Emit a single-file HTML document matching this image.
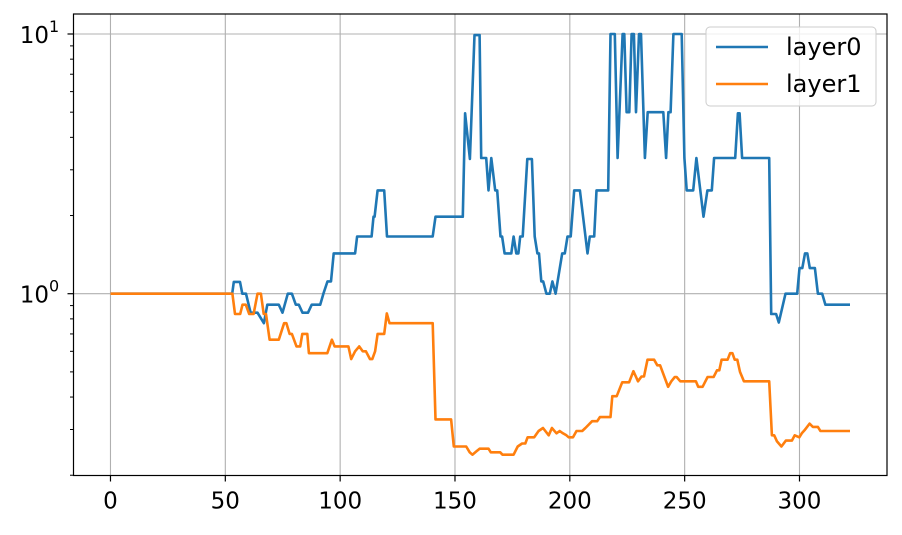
<!DOCTYPE html>
<html><head><meta charset="utf-8"><style>
html,body{margin:0;padding:0;background:#fff;}
svg text{font-family:"DejaVu Sans","Liberation Sans",sans-serif;fill:#000;}
</style></head><body>
<svg id="chart" width="902" height="530" viewBox="0 0 902 530">
<g id="grid"></g>
<g id="series"></g>
<rect x="73.5" y="14" width="813.5" height="461.5" fill="none" stroke="#000" stroke-width="1.2"/>
<g id="axes"></g>
<g>
<rect x="706" y="27" width="170" height="79" rx="4" fill="#fff" fill-opacity="0.8" stroke="#ccc"/>
<line x1="716" y1="47" x2="768" y2="47" stroke="#1f77b4" stroke-width="2.6"/>
<text x="786" y="55" font-size="24">layer0</text>
<line x1="716" y1="84" x2="768" y2="84" stroke="#ff7f0e" stroke-width="2.6"/>
<text x="786" y="92" font-size="24">layer1</text>
</g>
</svg>
<script>
const xTicks = [0,50,100,150,200,250,300];
const l0x = [0,53,53.7,56.4,57.4,59,61,64,66.8,68.3,73.3,74.9,77.2,79,80.7,82,83.6,86,87.6,91.3,92.7,94.5,96,97.2,106.5,107.4,113.7,114.5,115,116.3,119.2,120.4,140.3,141.5,153.4,154.4,156.5,158.5,160.7,161.4,163.6,164.6,165.8,167.5,168.4,169.8,170.5,171.6,174.5,175.5,176.7,177.6,178.4,179.5,181.5,183.5,184.7,185.9,186.6,187.6,188.4,189.8,191.3,192.4,193.8,196.7,197.8,199,200.4,201.9,204.4,207.7,208.7,210.6,211.6,216.7,217.7,219.6,220.8,223,223.7,224.7,225.9,226.9,227.9,228.8,230.1,231,232.7,233.9,240.7,241.9,242.9,243.9,245.1,248.7,249.9,250.9,253.7,255.1,258.2,259.9,261.8,262.8,272,273.2,273.9,275,286.8,287.7,289.8,291,293.9,299,300,301.2,302.4,303.4,304.5,306.7,308,309.9,311.3,322];
const l0v = [1,1,1.11,1.11,1,1,0.845,0.845,0.77,0.907,0.907,0.845,1,1,0.907,0.907,0.845,0.845,0.907,0.907,1,1.115,1.115,1.43,1.43,1.66,1.66,1.98,1.98,2.5,2.5,1.66,1.66,1.98,1.98,4.95,3.3,9.9,9.9,3.33,3.33,2.5,3.33,2.5,2.5,1.66,1.66,1.43,1.43,1.66,1.43,1.43,1.66,1.66,3.3,3.3,1.66,1.43,1.43,1.115,1.115,1,1,1.115,1,1.43,1.43,1.66,1.66,2.5,2.5,1.43,1.66,1.66,2.5,2.5,10,10,3.33,10,10,5,5,10,10,5,10,10,3.33,5,5,3.33,5,5,10,10,3.33,2.5,2.5,3.33,1.98,2.5,2.5,3.33,3.33,4.95,4.95,3.33,3.33,0.835,0.835,0.775,1,1,1.255,1.255,1.43,1.43,1.255,1.255,1,1,0.907,0.907];
const l1x = [0,53.1,54.2,56.5,57.5,58.9,60.4,62.3,64,65.5,66.7,67.7,69.3,73.3,75.6,76.6,78,79,81,82.6,83.5,85.7,86.4,94.4,96.4,97.6,98,103.6,104.8,106.5,108.3,109.8,111.2,113,114,115.2,116.3,119.2,120.3,121.5,140.3,141.5,148.3,149.5,154.9,156.4,157.6,159.5,160.7,164.6,165.6,169.7,170.7,175.5,177.3,179.2,180.6,181.6,184.5,186.4,188.3,190.8,192.2,194.2,195.6,197,198.5,199.5,201.4,202.9,205.4,206.8,209.7,211.9,213.1,217.7,218.5,220.4,222.8,225.8,227.7,229.7,231.2,232.3,233.8,236.7,238.1,239.3,242.8,244.2,245.7,246.5,248.1,254.9,255.9,257.8,260,262.6,264.1,265.1,266.1,268.7,269.8,270.8,271.8,272.9,274.1,275.8,286.8,288,289,290.2,292.1,294.1,296.7,297.9,299.9,301,302.2,304.4,305.8,308,309.1,322];
const l1v = [1,1,0.835,0.835,0.907,0.907,0.835,0.835,1,1,0.835,0.835,0.665,0.665,0.77,0.77,0.7,0.7,0.627,0.627,0.7,0.7,0.59,0.59,0.665,0.627,0.627,0.627,0.56,0.6,0.627,0.6,0.6,0.56,0.56,0.6,0.7,0.7,0.84,0.77,0.77,0.328,0.328,0.258,0.258,0.245,0.24,0.248,0.253,0.253,0.245,0.245,0.24,0.24,0.258,0.265,0.265,0.28,0.28,0.296,0.304,0.285,0.304,0.29,0.296,0.29,0.285,0.28,0.28,0.296,0.296,0.304,0.323,0.323,0.335,0.335,0.403,0.403,0.456,0.456,0.503,0.46,0.48,0.48,0.557,0.557,0.53,0.53,0.438,0.46,0.478,0.478,0.46,0.46,0.438,0.438,0.478,0.478,0.507,0.507,0.557,0.557,0.59,0.59,0.557,0.557,0.5,0.46,0.46,0.285,0.285,0.27,0.258,0.272,0.272,0.285,0.28,0.29,0.298,0.316,0.307,0.307,0.296,0.296];
const NS='http://www.w3.org/2000/svg';
const X0=73.5,X1=887,Y0=14,Y1=475.5;
const xMin=-16.1,xMax=338.1;
const lMin=-0.7,lMax=1.077;
function sx(v){return X0+(v-xMin)/(xMax-xMin)*(X1-X0);}
function sy(v){return Y1-(Math.log10(v)-lMin)/(lMax-lMin)*(Y1-Y0);}
function mk(tag,attrs,parent){const e=document.createElementNS(NS,tag);for(const k in attrs)e.setAttribute(k,attrs[k]);parent.appendChild(e);return e;}
const grid=document.getElementById('grid'),axes=document.getElementById('axes'),ser=document.getElementById('series');
xTicks.forEach(t=>{
  const x=sx(t);
  const g=mk('line',{x1:x,x2:x,y1:Y0,y2:Y1,stroke:'#b0b0b0','stroke-width':1.1},grid);
  
  
  const tk=mk('line',{x1:x,x2:x,y1:Y1,y2:Y1+6,stroke:'#000','stroke-width':1.2},axes);
  
  
  const tx=mk('text',{x:x,y:Y1+33,'text-anchor':'middle','font-size':23},axes);
  tx.textContent=t;
  
  
});
[1,10].forEach((v,i)=>{
  const y=sy(v);
  const g=mk('line',{x1:X0,x2:X1,y1:y,y2:y,stroke:'#b0b0b0','stroke-width':1.1},grid);
  
  
  const tk=mk('line',{x1:X0-6,x2:X0,y1:y,y2:y,stroke:'#000','stroke-width':1.2},axes);
  
  
  const tx=mk('text',{x:X0-34,y:y+9,'text-anchor':'middle','font-size':23},axes);
  tx.innerHTML='10<tspan dy="-11" font-size="16">'+i+'</tspan>';
  
  
});
[0.2,0.3,0.4,0.5,0.6,0.7,0.8,0.9,2,3,4,5,6,7,8,9].forEach(v=>{
  const y=sy(v);
  const tk=mk('line',{x1:X0-3.5,x2:X0,y1:y,y2:y,stroke:'#000','stroke-width':1},axes);
  
  
});
function line(xs,vs,color,name){
  const d=xs.map((x,i)=>(i?'L':'M')+sx(x).toFixed(1)+' '+sy(vs[i]).toFixed(1)).join(' ');
  const p=mk('path',{d:d,fill:'none',stroke:color,'stroke-width':2.6,'stroke-linejoin':'round'},ser);
  
  
}
line(l0x,l0v,'#1f77b4','layer0-line');
line(l1x,l1v,'#ff7f0e','layer1-line');
</script>
</body></html>
